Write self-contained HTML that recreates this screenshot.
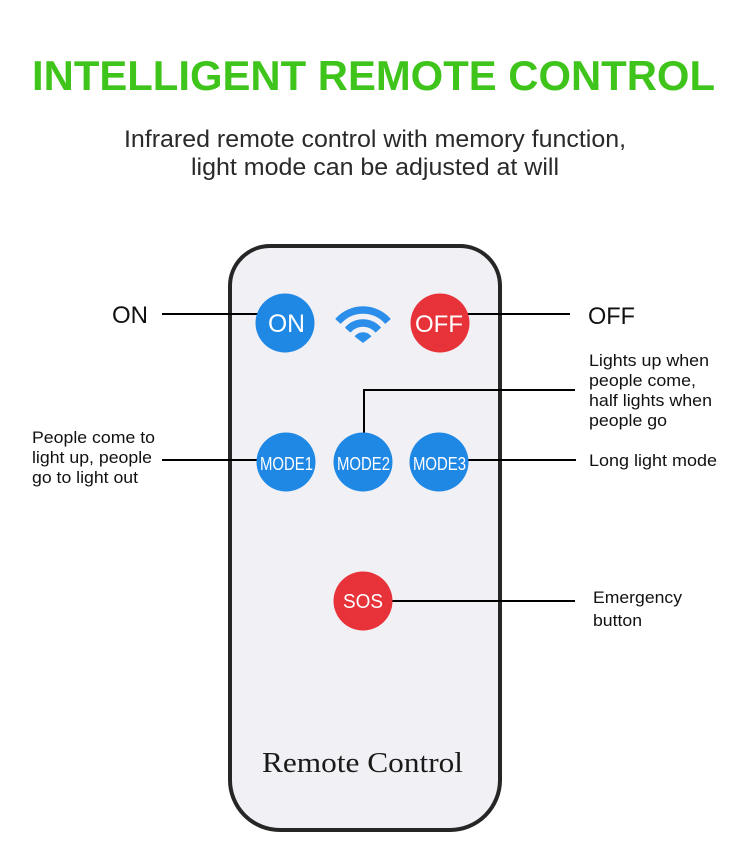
<!DOCTYPE html>
<html>
<head>
<meta charset="utf-8">
<style>
  html,body{margin:0;padding:0;background:#ffffff;}
  body{width:750px;height:866px;overflow:hidden;}
  svg{display:block;}
  text{font-family:"Liberation Sans",Arial,sans-serif;}
</style>
</head>
<body>
<svg width="750" height="866" viewBox="0 0 750 866" xmlns="http://www.w3.org/2000/svg">
  <rect x="0" y="0" width="750" height="866" fill="#ffffff"/>

  <!-- Title -->
  <text x="32" y="90" font-size="42" font-weight="bold" fill="#3fc41c" textLength="683" lengthAdjust="spacingAndGlyphs">INTELLIGENT REMOTE CONTROL</text>

  <!-- Subtitle -->
  <text x="124" y="147" font-size="24" fill="#2a2a2a" textLength="502" lengthAdjust="spacingAndGlyphs">Infrared remote control with memory function,</text>
  <text x="191" y="175" font-size="24" fill="#2a2a2a" textLength="368" lengthAdjust="spacingAndGlyphs">light mode can be adjusted at will</text>

  <!-- Remote body -->
  <path d="M 270 246 H 460 A 40 40 0 0 1 500 286 V 780 A 50 50 0 0 1 450 830 H 280 A 50 50 0 0 1 230 780 V 286 A 40 40 0 0 1 270 246 Z"
        fill="#f1f1f5" stroke="#262626" stroke-width="4"/>

  <!-- Connector lines -->
  <g stroke="#000" stroke-width="2" fill="none">
    <line x1="162" y1="314" x2="262" y2="314"/>
    <line x1="466" y1="314" x2="570" y2="314"/>
    <line x1="162" y1="460" x2="262" y2="460"/>
    <polyline points="364,434 364,390 575,390"/>
    <line x1="466" y1="460" x2="576" y2="460"/>
    <line x1="390" y1="601" x2="575" y2="601"/>
  </g>

  <!-- Wifi icon -->
  <g fill="#2a8eea" stroke="#2a8eea" stroke-width="1.5" stroke-linejoin="round">
    <path d="M 336.24 318.91 A 36 36 0 0 1 389.76 318.91 L 385.29 322.93 A 30 30 0 0 0 340.71 322.93 Z"/>
    <path d="M 345.91 327.61 A 23 23 0 0 1 380.09 327.61 L 375.63 331.63 A 17 17 0 0 0 350.37 331.63 Z"/>
    <path d="M 355.57 336.31 A 10 10 0 0 1 370.43 336.31 L 363 342 Z"/>
  </g>

  <!-- Buttons -->
  <g>
    <circle cx="285" cy="323" r="29.5" fill="#1f88e5"/>
    <circle cx="440" cy="323" r="29.5" fill="#e8323a"/>
    <circle cx="286" cy="462" r="29.5" fill="#1f88e5"/>
    <circle cx="363" cy="462" r="29.5" fill="#1f88e5"/>
    <circle cx="439" cy="462" r="29.5" fill="#1f88e5"/>
    <circle cx="363" cy="601" r="29.5" fill="#e8323a"/>
  </g>
  <g fill="#ffffff">
    <text x="268" y="332" font-size="25" textLength="37" lengthAdjust="spacingAndGlyphs">ON</text>
    <text x="415" y="332" font-size="24" textLength="48" lengthAdjust="spacingAndGlyphs">OFF</text>
    <text x="260" y="470" font-size="18" textLength="53" lengthAdjust="spacingAndGlyphs">MODE1</text>
    <text x="337" y="470" font-size="18" textLength="53" lengthAdjust="spacingAndGlyphs">MODE2</text>
    <text x="413" y="470" font-size="18" textLength="53" lengthAdjust="spacingAndGlyphs">MODE3</text>
    <text x="343" y="608" font-size="20" textLength="40" lengthAdjust="spacingAndGlyphs">SOS</text>
  </g>

  <!-- Remote label -->
  <text x="262" y="772" font-size="28" fill="#1a1a1a" textLength="201" lengthAdjust="spacingAndGlyphs" style="font-family:'Liberation Serif',serif">Remote Control</text>

  <!-- Side labels -->
  <g fill="#111111">
    <text x="112" y="323" font-size="24" textLength="36" lengthAdjust="spacingAndGlyphs">ON</text>
    <text x="588" y="324" font-size="24" textLength="47" lengthAdjust="spacingAndGlyphs">OFF</text>

    <text x="32" y="443" font-size="17" textLength="123" lengthAdjust="spacingAndGlyphs">People come to</text>
    <text x="32" y="463" font-size="17" textLength="120" lengthAdjust="spacingAndGlyphs">light up, people</text>
    <text x="32" y="483" font-size="17" textLength="106" lengthAdjust="spacingAndGlyphs">go to light out</text>

    <text x="589" y="366" font-size="17" textLength="120" lengthAdjust="spacingAndGlyphs">Lights up when</text>
    <text x="589" y="386" font-size="17" textLength="107" lengthAdjust="spacingAndGlyphs">people come,</text>
    <text x="589" y="406" font-size="17" textLength="123" lengthAdjust="spacingAndGlyphs">half lights when</text>
    <text x="589" y="426" font-size="17" textLength="78" lengthAdjust="spacingAndGlyphs">people go</text>

    <text x="589" y="466" font-size="17" textLength="128" lengthAdjust="spacingAndGlyphs">Long light mode</text>

    <text x="593" y="603" font-size="17" textLength="89" lengthAdjust="spacingAndGlyphs">Emergency</text>
    <text x="593" y="626" font-size="17" textLength="49" lengthAdjust="spacingAndGlyphs">button</text>
  </g>
</svg>
</body>
</html>
